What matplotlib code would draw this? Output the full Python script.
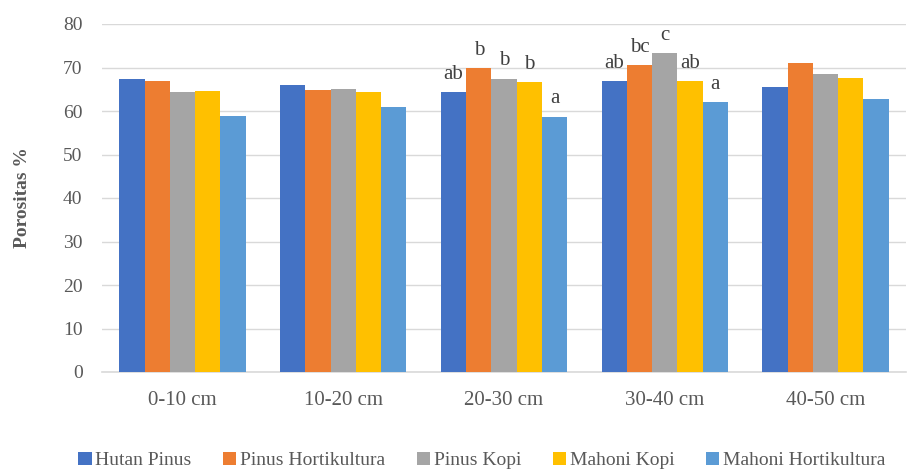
import matplotlib.pyplot as plt
import numpy as np

plt.rcParams['font.family'] = ['Liberation Serif', 'DejaVu Serif']

kedalaman = ['0-10 cm', '10-20 cm', '20-30 cm', '30-40 cm', '40-50 cm']
lahan = ['Hutan Pinus', 'Pinus Hortikultura', 'Pinus Kopi', 'Mahoni Kopi', 'Mahoni Hortikultura']
warna = ['#4472C4', '#ED7D31', '#A5A5A5', '#FFC000', '#5B9BD5']

hutan_pinus = [67.3, 65.9, 64.4, 66.9, 65.5]
pinus_hort = [67.0, 64.8, 69.8, 70.5, 71.0]
pinus_kopi = [64.4, 65.1, 67.4, 73.3, 68.4]
mahoni_kopi = [64.7, 64.4, 66.7, 66.9, 67.5]
mahoni_hort = [58.9, 61.0, 58.7, 62.0, 62.8]

# notasi uji lanjut (hanya kedalaman 20-30 dan 30-40 cm)
notasi_hutan_pinus = ['', '', 'ab', 'ab', '']
notasi_pinus_hort = ['', '', 'b', 'bc', '']
notasi_pinus_kopi = ['', '', 'b', 'c', '']
notasi_mahoni_kopi = ['', '', 'b', 'ab', '']
notasi_mahoni_hort = ['', '', 'a', 'a', '']

nilai = [hutan_pinus, pinus_hort, pinus_kopi, mahoni_kopi, mahoni_hort]
notasi = [notasi_hutan_pinus, notasi_pinus_hort, notasi_pinus_kopi,
          notasi_mahoni_kopi, notasi_mahoni_hort]

fig = plt.figure(figsize=(9.09, 4.75), dpi=100)
ax = fig.add_axes([102 / 909, 103 / 475, 804 / 909, 348 / 475])

x = np.arange(len(kedalaman))
lebar = 0.157
for i in range(len(lahan)):
    pos = x + (i - 2) * lebar
    ax.bar(pos, nilai[i], lebar, color=warna[i], label=lahan[i], zorder=3)
    for j in range(len(kedalaman)):
        if notasi[i][j]:
            ax.annotate(notasi[i][j], (pos[j], nilai[i][j]), xytext=(0, 6),
                        textcoords='offset points', ha='center', va='bottom',
                        fontsize=15, color='#404040')

ax.set_ylim(0, 80)
ax.set_xlim(-0.5, len(kedalaman) - 0.5)
ax.set_yticks(range(0, 81, 10))
ax.set_xticks(x)
ax.set_xticklabels(kedalaman)
ax.grid(axis='y', color='#D9D9D9', linewidth=1, zorder=0)
for s in ['top', 'right', 'left']:
    ax.spines[s].set_visible(False)
ax.spines['bottom'].set_color('#D9D9D9')
ax.spines['bottom'].set_linewidth(1.2)
ax.tick_params(axis='y', length=0, labelsize=14, labelcolor='#595959', pad=14)
ax.tick_params(axis='x', length=0, labelsize=15, labelcolor='#595959', pad=14)
ax.set_ylabel('Porositas %', fontsize=14, fontweight='bold', color='#595959')
ax.yaxis.set_label_coords(-71 / 804, 0.5)

fig.legend(loc='lower center', ncol=5, frameon=False, fontsize=14,
           handlelength=0.7, handleheight=0.7, handletextpad=0.2,
           columnspacing=1.6, bbox_to_anchor=(0.53, -0.025),
           labelcolor='#595959')

fig.savefig('out.png', dpi=100)
